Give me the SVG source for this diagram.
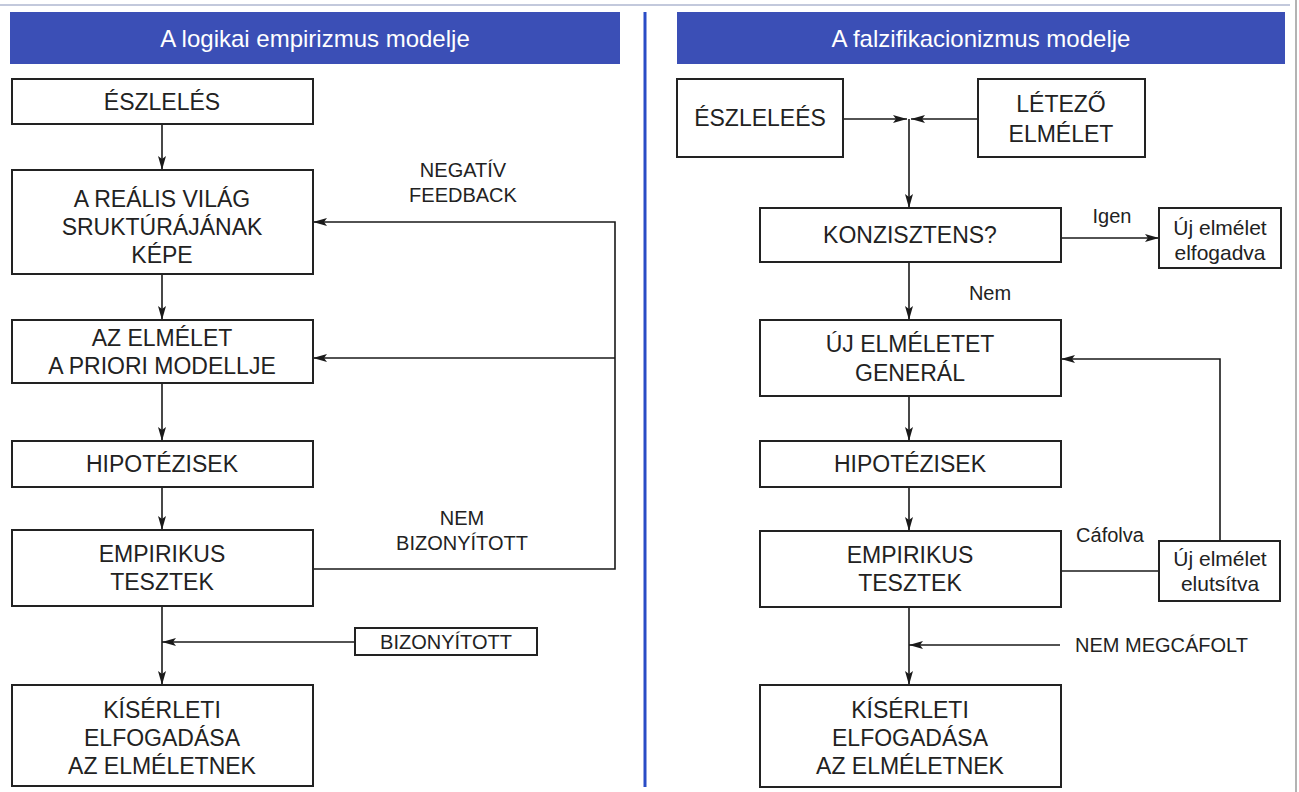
<svg xmlns="http://www.w3.org/2000/svg" width="1299" height="792" viewBox="0 0 1299 792">
<defs>
<marker id="ah" markerUnits="userSpaceOnUse" markerWidth="14" markerHeight="8" refX="14" refY="4" orient="auto">
<path d="M0,0 L14,4 L0,8 L3,4 Z" fill="#1a1a1a"/>
</marker>
<style>
.box{fill:#fff;stroke:#222;stroke-width:2}
.t{font-family:"Liberation Sans",Arial,sans-serif;font-size:23px;fill:#222;text-anchor:middle}
.s{font-family:"Liberation Sans",Arial,sans-serif;font-size:20px;fill:#222;text-anchor:middle}
.h{font-family:"Liberation Sans",Arial,sans-serif;font-size:24px;fill:#fff;text-anchor:middle}
.hd{fill:#3b4fb6}
.c{fill:none;stroke:#1a1a1a;stroke-width:1.6}
.a{marker-end:url(#ah)}
</style>
</defs>
<rect width="1299" height="792" fill="#fff"/>
<line x1="0" y1="5" x2="1290" y2="5" stroke="#c3c9dc" stroke-width="2"/>
<line x1="1296" y1="0" x2="1296" y2="792" stroke="#9a9a9a" stroke-width="1.5"/>
<g id="header-left"><rect class="hd" x="10" y="12" width="610" height="52"/><text class="h" x="315" y="47">A logikai empirizmus modelje</text></g>
<g id="header-right"><rect class="hd" x="677" y="12" width="608" height="52"/><text class="h" x="981" y="47">A falzifikacionizmus modelje</text></g>
<line id="divider" x1="645" y1="12" x2="645" y2="787" stroke="#2a4cc6" stroke-width="3"/>

<g id="connectors">
<line class="c a" x1="162" y1="124" x2="162" y2="170"/>
<line class="c a" x1="162" y1="274" x2="162" y2="320"/>
<line class="c a" x1="162" y1="383" x2="162" y2="441"/>
<line class="c a" x1="162" y1="487" x2="162" y2="530"/>
<polyline class="c a" points="313,569 615,569 615,222 313,222"/>
<line class="c a" x1="615" y1="358" x2="313" y2="358"/>
<line class="c a" x1="162" y1="606" x2="162" y2="685"/>
<line class="c a" x1="355" y1="642" x2="162" y2="642"/>

<line class="c a" x1="843" y1="119" x2="907" y2="119"/>
<line class="c a" x1="978" y1="119" x2="911" y2="119"/>
<line class="c a" x1="909" y1="119" x2="909" y2="208"/>
<line class="c a" x1="1061" y1="238" x2="1159" y2="238"/>
<line class="c a" x1="909" y1="262" x2="909" y2="320"/>
<line class="c a" x1="909" y1="396" x2="909" y2="441"/>
<line class="c a" x1="909" y1="487" x2="909" y2="531"/>
<line class="c" x1="1061" y1="571" x2="1159" y2="571"/>
<polyline class="c a" points="1220,541 1220,359 1061,359"/>
<line class="c a" x1="909" y1="607" x2="909" y2="685"/>
<line class="c a" x1="1060" y1="645" x2="909" y2="645"/>
</g>

<g id="labels">
<text class="s" x="463" y="177">NEGATÍV</text>
<text class="s" x="463" y="202">FEEDBACK</text>
<text class="s" x="462" y="525">NEM</text>
<text class="s" x="462" y="550">BIZONYÍTOTT</text>
<text class="s" x="1112" y="223">Igen</text>
<text class="s" x="990" y="300">Nem</text>
<text class="s" x="1110" y="542">Cáfolva</text>
<text class="s" x="1075" y="652" style="text-anchor:start">NEM MEGCÁFOLT</text>
</g>

<g id="l-eszleles"><rect class="box" x="12" y="79" width="301" height="45"/><text class="t" x="162" y="110">ÉSZLELÉS</text></g>
<g id="l-realis"><rect class="box" x="12" y="170" width="301" height="104"/><text class="t" x="162" y="207">A REÁLIS VILÁG</text><text class="t" x="162" y="235">SRUKTÚRÁJÁNAK</text><text class="t" x="162" y="263">KÉPE</text></g>
<g id="l-elmelet"><rect class="box" x="12" y="320" width="301" height="63"/><text class="t" x="162" y="346">AZ ELMÉLET</text><text class="t" x="162" y="374">A PRIORI MODELLJE</text></g>
<g id="l-hipotezisek"><rect class="box" x="12" y="441" width="301" height="46"/><text class="t" x="162" y="472">HIPOTÉZISEK</text></g>
<g id="l-empirikus"><rect class="box" x="12" y="530" width="301" height="76"/><text class="t" x="162" y="562">EMPIRIKUS</text><text class="t" x="162" y="590">TESZTEK</text></g>
<g id="l-bizonyitott"><rect class="box" x="355" y="628" width="182" height="27"/><text class="s" x="446" y="649">BIZONYÍTOTT</text></g>
<g id="l-kiserleti"><rect class="box" x="12" y="685" width="301" height="101"/><text class="t" x="162" y="718">KÍSÉRLETI</text><text class="t" x="162" y="746">ELFOGADÁSA</text><text class="t" x="162" y="774">AZ ELMÉLETNEK</text></g>

<g id="r-eszleles"><rect class="box" x="677" y="79" width="166" height="78"/><text class="t" x="760" y="126">ÉSZLELEÉS</text></g>
<g id="r-letezo"><rect class="box" x="978" y="79" width="167" height="78"/><text class="t" x="1061" y="112">LÉTEZŐ</text><text class="t" x="1061" y="142">ELMÉLET</text></g>
<g id="r-konzisztens"><rect class="box" x="760" y="208" width="301" height="54"/><text class="t" x="910" y="243">KONZISZTENS?</text></g>
<g id="r-elfogadva"><rect class="box" x="1159" y="208" width="122" height="60"/><text class="s" x="1220" y="235" style="font-size:21px">Új elmélet</text><text class="s" x="1220" y="260" style="font-size:21px">elfogadva</text></g>
<g id="r-uj"><rect class="box" x="760" y="320" width="301" height="76"/><text class="t" x="910" y="352">ÚJ ELMÉLETET</text><text class="t" x="910" y="381">GENERÁL</text></g>
<g id="r-hipotezisek"><rect class="box" x="760" y="441" width="301" height="46"/><text class="t" x="910" y="472">HIPOTÉZISEK</text></g>
<g id="r-empirikus"><rect class="box" x="760" y="531" width="301" height="76"/><text class="t" x="910" y="563">EMPIRIKUS</text><text class="t" x="910" y="591">TESZTEK</text></g>
<g id="r-elutsitva"><rect class="box" x="1159" y="541" width="121" height="60"/><text class="s" x="1220" y="566" style="font-size:21px">Új elmélet</text><text class="s" x="1220" y="591" style="font-size:21px">elutsítva</text></g>
<g id="r-kiserleti"><rect class="box" x="760" y="685" width="301" height="102"/><text class="t" x="910" y="718">KÍSÉRLETI</text><text class="t" x="910" y="746">ELFOGADÁSA</text><text class="t" x="910" y="774">AZ ELMÉLETNEK</text></g>
</svg>
